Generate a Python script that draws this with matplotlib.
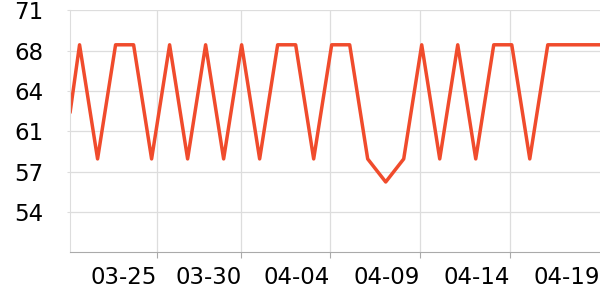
import matplotlib
matplotlib.use("Agg")
import matplotlib.pyplot as plt

# day offsets (0 = 03-21) and values
days = [-0.52, 0, 1, 2, 3, 4, 5, 6, 7, 8, 9, 10, 11, 12, 13, 14, 15, 16, 17,
        18, 19, 20, 21, 22, 23, 24, 25, 26, 27, 28, 29]
values = [62.7, 68.5, 58.6, 68.5, 68.5, 58.6, 68.5, 58.6, 68.5, 58.6, 68.5,
          58.6, 68.5, 68.5, 58.6, 68.5, 68.5, 58.6, 56.6, 58.6, 68.5, 58.6,
          68.5, 58.6, 68.5, 68.5, 58.6, 68.5, 68.5, 68.5, 68.5]

x_tick_pos = [4.31, 8.98, 13.92, 18.92, 23.92, 28.9]
x_tick_labels = ["03-25", "03-30", "04-04", "04-09", "04-14", "04-19"]
y_tick_pos = [54, 57.5, 61, 64.5, 68, 71.5]
y_tick_labels = ["54", "57", "61", "64", "68", "71"]

fig = plt.figure(figsize=(6, 3), dpi=100)
ax = fig.add_axes([0.117, 0.159, 0.883, 0.807])

ax.plot(days, values, color="#f04b2c", linewidth=2.5, solid_joinstyle="round")

ax.set_xlim(-0.52, 28.9)
ax.set_ylim(50.5, 71.5)

ax.set_yticks(y_tick_pos)
ax.set_yticklabels(y_tick_labels)
ax.set_xticks(x_tick_pos)
ax.set_xticklabels(x_tick_labels, ha="right")

ax.grid(True, color="#dddddd", linewidth=0.9)
ax.set_axisbelow(True)
# the last tick sits on the right edge: label only
ax.get_xgridlines()[-1].set_visible(False)
ax.xaxis.get_major_ticks()[-1].tick1line.set_visible(False)

for s in ["top", "right"]:
    ax.spines[s].set_visible(False)
ax.spines["left"].set_color("#dddddd")
ax.spines["bottom"].set_color("#aaaaaa")
ax.tick_params(axis="y", length=2, color="#dddddd", labelsize=16.5, pad=17)
ax.tick_params(axis="x", length=4, color="#aaaaaa", labelsize=16.5, pad=6)

fig.savefig("out.png", dpi=100)
